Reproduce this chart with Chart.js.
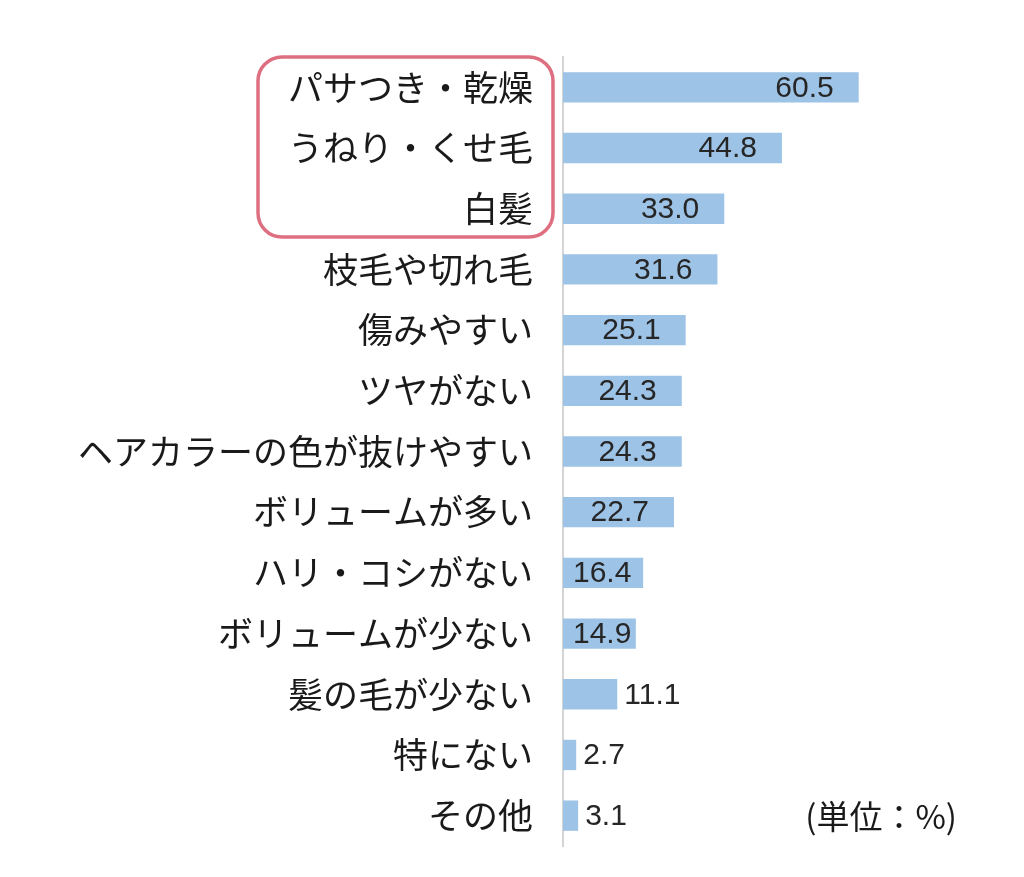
<!DOCTYPE html>
<html lang="ja">
<head>
<meta charset="utf-8">
<title>髪の悩み</title>
<script src="https://cdn.jsdelivr.net/npm/chart.js@4"></script>
<style>
  html, body { margin: 0; padding: 0; background: #fff; }
  #wrap { width: 1024px; height: 877px; position: relative; }
</style>
</head>
<body>
<div id="wrap"><canvas id="hairChart"></canvas></div>
<script>
const labels = ['パサつき・乾燥', 'うねり・くせ毛', '白髪', '枝毛や切れ毛', '傷みやすい', 'ツヤがない',
  'ヘアカラーの色が抜けやすい', 'ボリュームが多い', 'ハリ・コシがない', 'ボリュームが少ない',
  '髪の毛が少ない', '特にない', 'その他']
const values = [60.5, 44.8, 33.0, 31.6, 25.1, 24.3, 24.3, 22.7, 16.4, 14.9, 11.1, 2.7, 3.1]
const highlighted = [0, 1, 2]   // rows inside the pink box
const unitText = '(単位：%)'

const JP = '"Noto Sans CJK JP", "Noto Sans", sans-serif'

// value labels: inside the bar end for long bars, just outside for short ones
const valueLabels = {
  id: 'valueLabels',
  afterDatasetsDraw(chart) {
    const ctx = chart.ctx
    const meta = chart.getDatasetMeta(0)
    const left = chart.chartArea.left
    ctx.save()
    ctx.font = '30px "Liberation Sans", Arial, sans-serif'
    ctx.fillStyle = '#262626'
    ctx.textBaseline = 'middle'
    meta.data.forEach((bar, i) => {
      const txt = values[i].toFixed(1)
      const w = ctx.measureText(txt).width
      let x
      if (values[i] < 12) {
        x = bar.x + 7
      } else {
        x = Math.max(bar.x - 25 - w, left + 10)
      }
      ctx.fillText(txt, x, bar.y + 1)
    })
    ctx.restore()
  }
}

// pink rounded box round the top three labels, and the unit note
const extras = {
  id: 'extras',
  afterDraw(chart) {
    const ctx = chart.ctx
    const y = chart.scales.y
    const step = y.getPixelForTick(1) - y.getPixelForTick(0)
    const top = y.getPixelForTick(highlighted[0]) - step / 2
    const bottom = y.getPixelForTick(highlighted[highlighted.length - 1]) + step / 2 - 2
    const l = 258, r = chart.chartArea.left - 10, rad = 24
    ctx.save()
    ctx.strokeStyle = '#DE6F80'
    ctx.lineWidth = 3.5
    ctx.beginPath()
    ctx.roundRect(l, top, r - l, bottom - top, rad)
    ctx.stroke()

    ctx.font = '33px ' + JP
    ctx.fillStyle = '#1a1a1a'
    ctx.textAlign = 'right'
    ctx.textBaseline = 'middle'
    ctx.fillText(unitText, chart.chartArea.right + 3, y.getPixelForTick(labels.length - 1) + 1)
    ctx.restore()
  }
}

new Chart(document.getElementById('hairChart'), {
  type: 'bar',
  data: {
    labels: labels,
    datasets: [{
      data: values,
      backgroundColor: '#9DC3E6',
      borderWidth: 0,
      categoryPercentage: 1,
      barPercentage: 0.5
    }]
  },
  options: {
    indexAxis: 'y',
    responsive: true,
    maintainAspectRatio: false,
    animation: false,
    layout: { padding: { top: 57, bottom: 31, left: 0, right: 70 } },
    plugins: { legend: { display: false }, tooltip: { enabled: false } },
    scales: {
      x: { display: false, min: 0, max: 80 },
      y: {
        afterFit: (scale) => {
          scale.width = 563
          scale.paddingTop = 0
          scale.paddingBottom = 0
        },
        grid: { display: false, drawTicks: false },
        border: { display: true, color: '#d4d4d4', width: 2 },
        ticks: {
          autoSkip: false,
          padding: 30,
          color: '#1a1a1a',
          font: { family: JP, size: 35 }
        }
      }
    }
  },
  plugins: [valueLabels, extras]
});
</script>
</body>
</html>
